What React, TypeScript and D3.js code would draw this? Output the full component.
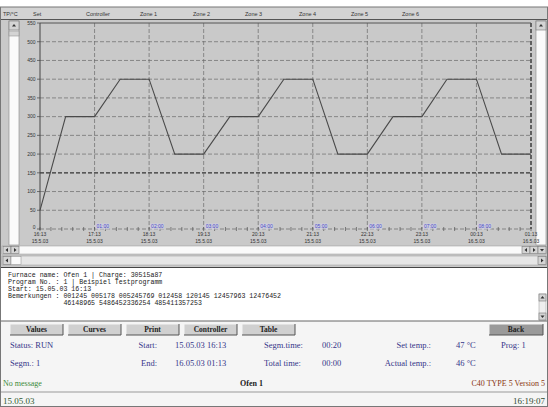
import React from 'react'
import * as d3 from 'd3'

// header columns
const headerLabels = ['TP/°C', 'Set', 'Controller', 'Zone 1', 'Zone 2', 'Zone 3', 'Zone 4', 'Zone 5', 'Zone 6']
const headerX = [3, 33, 86, 140, 193, 245, 299, 351, 402]

// axes
const tempTicks = [0, 50, 100, 150, 200, 250, 300, 350, 400, 450, 500, 550]
const hourTicks = [0, 1, 2, 3, 4, 5, 6, 7, 8, 9]
const timeLabels = ['16:13', '17:13', '18:13', '19:13', '20:13', '21:13', '22:13', '23:13', '00:13', '01:13']
const dateLabels = ['15.5.03', '15.5.03', '15.5.03', '15.5.03', '15.5.03', '15.5.03', '15.5.03', '15.5.03', '16.5.03', '16.5.03']
const segHours = [1, 2, 3, 4, 5, 6, 7, 8]
const segLabels = ['01:00', '02:00', '03:00', '04:00', '05:00', '06:00', '07:00', '08:00']

// set-point curve (hours from start, °C)
const setHours = [0, 0.47, 1, 1.47, 2, 2.47, 3, 3.48, 4, 4.47, 5, 5.46, 6, 6.47, 7, 7.46, 8, 8.46, 9]
const setTemps = [50, 300, 300, 400, 400, 200, 200, 300, 300, 400, 400, 200, 200, 300, 300, 400, 400, 200, 200]

// info text
const infoLines = [
  'Furnace name: Ofen 1 | Charge: 30515a87',
  'Program No. : 1 | Beispiel Testprogramm',
  'Start: 15.05.03 16:13',
  'Bemerkungen : 001245 005178 005245769 012458 120145 12457963 12476452',
  '              46148965 5486452336254 485411357253',
]

const buttons = ['Values', 'Curves', 'Print', 'Controller', 'Table']

const W = 548
const H = 407

function Button({ x, y, w, h, label, dark }: { x: number; y: number; w: number; h: number; label: string; dark?: boolean }) {
  return (
    <g>
      <rect x={x} y={y} width={w} height={h} fill={dark ? '#9a9a9a' : '#d0d0d0'} />
      <path d={`M${x},${y + h} L${x},${y} L${x + w},${y}`} stroke="#f4f4f4" fill="none" />
      <path d={`M${x},${y + h} L${x + w},${y + h} L${x + w},${y}`} stroke="#555" fill="none" />
      <text x={x + w / 2} y={y + h - 3} textAnchor="middle" fontSize={7.5} fontWeight="bold"
        fontFamily="Liberation Serif" fill="#222">{label}</text>
    </g>
  )
}

function Arrow({ cx, cy, dir }: { cx: number; cy: number; dir: 'up' | 'down' | 'left' | 'right' }) {
  const s = 2
  const d = dir === 'up' ? `M${cx - s},${cy + 1} L${cx + s},${cy + 1} L${cx},${cy - 1.5}Z`
    : dir === 'down' ? `M${cx - s},${cy - 1} L${cx + s},${cy - 1} L${cx},${cy + 1.5}Z`
    : dir === 'left' ? `M${cx + 1},${cy - s} L${cx + 1},${cy + s} L${cx - 1.5},${cy}Z`
    : `M${cx - 1},${cy - s} L${cx - 1},${cy + s} L${cx + 1.5},${cy}Z`
  return <path d={d} fill="#333" />
}

function SmallBox({ x, y, w, h, dir }: { x: number; y: number; w: number; h: number; dir: 'up' | 'down' | 'left' | 'right' }) {
  return (
    <g>
      <rect x={x} y={y} width={w} height={h} fill="#d4d4d4" stroke="#777" strokeWidth={0.6} />
      <Arrow cx={x + w / 2} cy={y + h / 2} dir={dir} />
    </g>
  )
}

export default function App() {
  const x = d3.scaleLinear().domain([0, 9]).range([40, 531])
  const y = d3.scaleLinear().domain([0, 550]).range([229, 23])
  const line = d3.line<number>().x((_, i) => x(setHours[i])).y(d => y(d))
  const minor = x.ticks(36)

  const serif = 'Liberation Serif'
  const blue = '#35358a'

  return (
    <div>
      <style>{'body{margin:0}'}</style>
      <svg width={W} height={H} style={{ display: 'block' }}>
        <rect width={W} height={H} fill="#f5f5f5" />
        <rect x={0} y={0} width={W} height={7} fill="#ffffff" />

        {/* header row */}
        <rect x={0} y={7} width={W} height={12} fill="#d3d3d3" />
        {headerLabels.map((t, i) => (
          <text key={t} x={headerX[i]} y={16} fontSize={5.5} fontFamily="Liberation Sans" fill="#333">{t}</text>
        ))}
        <line x1={0} x2={W} y1={19.5} y2={19.5} stroke="#555" strokeWidth={1} />

        {/* chart panel */}
        <rect x={0} y={20} width={W} height={248} fill="#c9c9c9" />

        {/* left / right vertical scrollbars */}
        <rect x={9} y={21} width={10} height={224} fill="#fafafa" stroke="#888" strokeWidth={0.6} />
        <SmallBox x={9} y={21} w={10} h={9} dir="up" />
        <rect x={9} y={31} width={10} height={5} fill="#d4d4d4" stroke="#888" strokeWidth={0.5} />
        <rect x={536} y={21} width={10} height={224} fill="#fafafa" stroke="#888" strokeWidth={0.6} />
        <SmallBox x={536} y={21} w={10} h={9} dir="up" />

        {/* grid */}
        {tempTicks.slice(1, -1).map(t => (
          <line key={t} x1={40} x2={531} y1={y(t)} y2={y(t)}
            stroke={t === 150 ? '#333' : '#6a6a6a'} strokeWidth={t === 150 ? 1.2 : 0.7} strokeDasharray="4,2" />
        ))}
        {hourTicks.slice(1, -1).map(h => (
          <line key={h} x1={x(h)} x2={x(h)} y1={23} y2={229} stroke="#6a6a6a" strokeWidth={0.7} strokeDasharray="4,2" />
        ))}
        <line x1={x(9)} x2={x(9)} y1={23} y2={229} stroke="#333" strokeWidth={1.4} strokeDasharray="4,2" />
        <line x1={40} x2={531} y1={y(550)} y2={y(550)} stroke="#555" strokeWidth={1} />
        <line x1={40} x2={40} y1={23} y2={230} stroke="#444" strokeWidth={1} />
        <line x1={40} x2={531} y1={y(0)} y2={y(0)} stroke="#666" strokeWidth={0.7} strokeDasharray="4,2" />
        {minor.map(m => (
          <line key={m} x1={x(m)} x2={x(m)} y1={227} y2={231} stroke="#555" strokeWidth={0.7} />
        ))}

        {/* y labels */}
        {tempTicks.map(t => (
          <g key={t}>
            <line x1={37} x2={40} y1={y(t)} y2={y(t)} stroke="#444" strokeWidth={0.7} />
            <text x={35.5} y={y(t) + (t === 0 ? 0 : 1.8)} textAnchor="end" fontSize={5} fontFamily="Liberation Sans" fill="#333">{t}</text>
          </g>
        ))}

        {/* x labels */}
        {hourTicks.map((h, i) => (
          <g key={h}>
            <text x={x(h)} y={236} textAnchor="middle" fontSize={5} fontFamily="Liberation Sans" fill="#333">{timeLabels[i]}</text>
            <text x={x(h)} y={242.5} textAnchor="middle" fontSize={5} fontFamily="Liberation Sans" fill="#333">{dateLabels[i]}</text>
          </g>
        ))}
        {segHours.map((h, i) => (
          <g key={h}>
            <rect x={x(h) + 1} y={223.5} width={14} height={6} fill="#d2d2e6" opacity={0.7} />
            <text x={x(h) + 2} y={228.3} fontSize={5} fontFamily="Liberation Sans" fill="#4848c8">{segLabels[i]}</text>
          </g>
        ))}

        {/* set curve */}
        <path d={line(setTemps) ?? ''} fill="none" stroke="#4a4a4a" strokeWidth={1.1} />

        {/* horizontal scrollbars */}
        <rect x={2} y={246} width={544} height={8} fill="#fafafa" stroke="#999" strokeWidth={0.5} />
        <SmallBox x={3} y={246.5} w={8} h={7} dir="left" />
        <SmallBox x={11} y={246.5} w={8} h={7} dir="right" />
        <SmallBox x={522} y={246.5} w={8} h={7} dir="left" />
        <SmallBox x={530} y={246.5} w={8} h={7} dir="right" />
        <SmallBox x={538} y={246.5} w={8} h={7} dir="down" />
        <rect x={2} y={256} width={544} height={9} fill="#e6e6e6" stroke="#999" strokeWidth={0.5} />
        <SmallBox x={3} y={256.5} w={8} h={8} dir="left" />
        <rect x={11} y={256.5} width={10} height={8} fill="#fafafa" stroke="#888" strokeWidth={0.5} />
        <SmallBox x={538} y={256.5} w={8} h={8} dir="right" />
        <line x1={0} x2={W} y1={267.5} y2={267.5} stroke="#444" strokeWidth={1} />

        {/* info text area */}
        <rect x={1} y={268} width={546} height={53} fill="#ffffff" />
        <rect x={539} y={294} width={7} height={26} fill="#eeeeee" stroke="#999" strokeWidth={0.5} />
        <SmallBox x={539} y={294} w={7} h={7} dir="up" />
        <SmallBox x={539} y={313} w={7} h={7} dir="down" />
        <line x1={0} x2={W} y1={321} y2={321} stroke="#666" strokeWidth={1} />
        {infoLines.map((t, i) => (
          <text key={i} x={8} y={277 + i * 7} fontSize={6.6} fontFamily="Liberation Mono" fill="#222"
            style={{ whiteSpace: 'pre' }}>{t}</text>
        ))}

        {/* buttons */}
        {buttons.map((b, i) => (
          <Button key={b} x={10 + i * 58} y={324} w={53} h={11} label={b} />
        ))}
        <Button x={489} y={324} w={54} h={11} label="Back" dark />

        {/* status rows */}
        <g fontFamily={serif} fontSize={8.5} fill={blue}>
          <text x={10} y={348}>Status:  RUN</text>
          <text x={157} y={348} textAnchor="end">Start:</text>
          <text x={175} y={348}>15.05.03 16:13</text>
          <text x={264} y={348}>Segm.time:</text>
          <text x={322} y={348}>00:20</text>
          <text x={431} y={348} textAnchor="end">Set temp.:</text>
          <text x={456} y={348}>47 °C</text>
          <text x={501} y={348}>Prog:  1</text>

          <text x={10} y={366}>Segm.:  1</text>
          <text x={157} y={366} textAnchor="end">End:</text>
          <text x={175} y={366}>16.05.03 01:13</text>
          <text x={264} y={366}>Total time:</text>
          <text x={322} y={366}>00:00</text>
          <text x={431} y={366} textAnchor="end">Actual temp.:</text>
          <text x={456} y={366}>46 °C</text>
        </g>
        <text x={3} y={386} fontFamily={serif} fontSize={8} fill="#3a8a3a">No message</text>
        <text x={240} y={386} fontFamily={serif} fontSize={8} fontWeight="bold" fill="#222">Ofen 1</text>
        <text x={545} y={386} textAnchor="end" fontFamily={serif} fontSize={8} fill="#8a3510">C40  TYPE 5  Version 5</text>

        <line x1={0} x2={W} y1={392} y2={392} stroke="#999" strokeWidth={1} />
        <text x={3} y={404} fontFamily={serif} fontSize={9} fill="#2f5a2f">15.05.03</text>
        <text x={545} y={404} textAnchor="end" fontFamily={serif} fontSize={9} fill="#2f4a2f">16:19:07</text>

        <rect x={0.5} y={7} width={W - 1} height={H - 7.5} fill="none" stroke="#777" strokeWidth={1} />
      </svg>
    </div>
  )
}
